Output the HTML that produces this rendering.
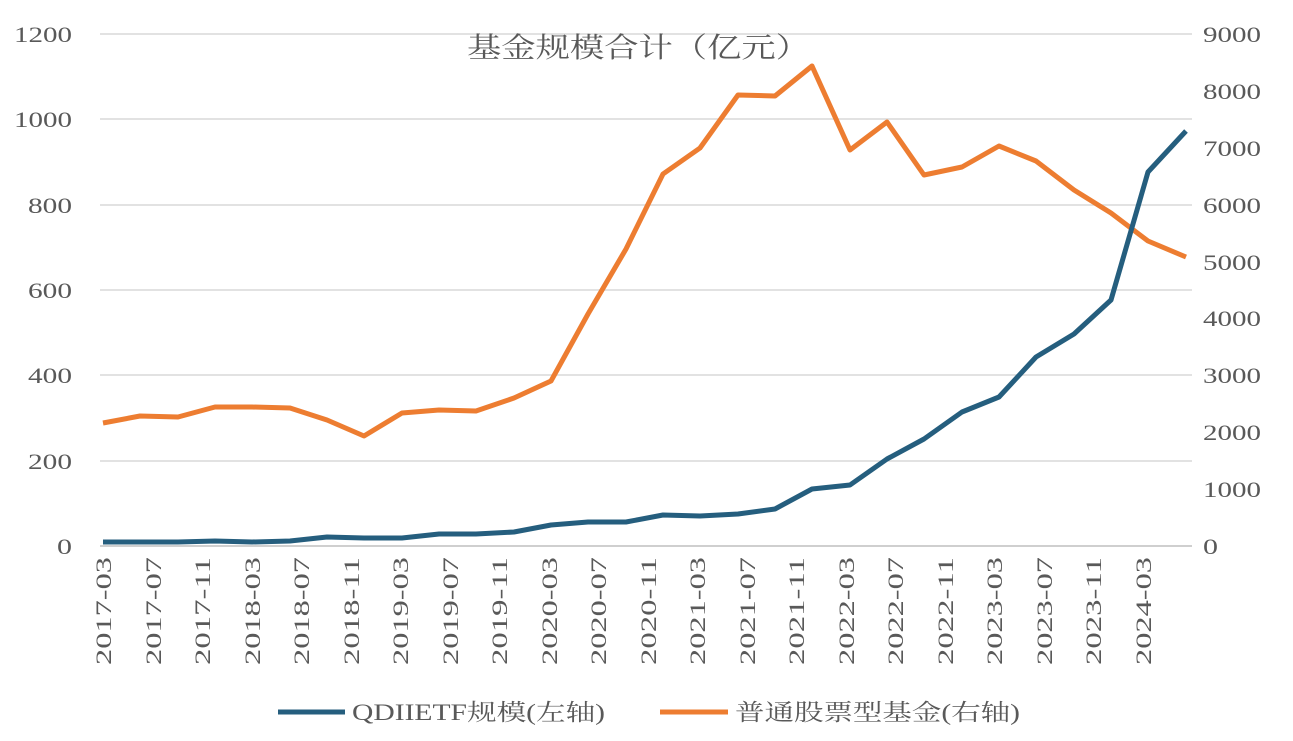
<!DOCTYPE html>
<html><head><meta charset="utf-8"><style>
body{margin:0;background:#fff;}
svg{display:block;font-family:"Liberation Serif","Noto Serif CJK SC",serif;}
</style></head><body>
<svg width="1293" height="741" viewBox="0 0 1293 741">
<g stroke="#d9d9d9" stroke-width="1.5">
<line x1="100" x2="1192" y1="34" y2="34"/><line x1="100" x2="1192" y1="119" y2="119"/>
<line x1="100" x2="1192" y1="205" y2="205"/><line x1="100" x2="1192" y1="290" y2="290"/>
<line x1="100" x2="1192" y1="375" y2="375"/><line x1="100" x2="1192" y1="461" y2="461"/>
</g>
<line x1="100" x2="1192" y1="546" y2="546" stroke="#bfbfbf" stroke-width="1.5"/>
<g fill="#595959" font-size="22" text-anchor="end" lengthAdjust="spacingAndGlyphs">
<text x="72" y="42" textLength="58" lengthAdjust="spacingAndGlyphs">1200</text>
<text x="72" y="127" textLength="58" lengthAdjust="spacingAndGlyphs">1000</text>
<text x="72" y="213" textLength="44" lengthAdjust="spacingAndGlyphs">800</text>
<text x="72" y="298" textLength="44" lengthAdjust="spacingAndGlyphs">600</text>
<text x="72" y="383" textLength="44" lengthAdjust="spacingAndGlyphs">400</text>
<text x="72" y="469" textLength="44" lengthAdjust="spacingAndGlyphs">200</text>
<text x="72" y="554" textLength="15" lengthAdjust="spacingAndGlyphs">0</text>
</g>
<g fill="#595959" font-size="22" text-anchor="start">
<text x="1203" y="42" textLength="58" lengthAdjust="spacingAndGlyphs">9000</text>
<text x="1203" y="99" textLength="58" lengthAdjust="spacingAndGlyphs">8000</text>
<text x="1203" y="156" textLength="58" lengthAdjust="spacingAndGlyphs">7000</text>
<text x="1203" y="213" textLength="58" lengthAdjust="spacingAndGlyphs">6000</text>
<text x="1203" y="270" textLength="58" lengthAdjust="spacingAndGlyphs">5000</text>
<text x="1203" y="326" textLength="58" lengthAdjust="spacingAndGlyphs">4000</text>
<text x="1203" y="383" textLength="58" lengthAdjust="spacingAndGlyphs">3000</text>
<text x="1203" y="440" textLength="58" lengthAdjust="spacingAndGlyphs">2000</text>
<text x="1203" y="497" textLength="58" lengthAdjust="spacingAndGlyphs">1000</text>
<text x="1203" y="554" textLength="15" lengthAdjust="spacingAndGlyphs">0</text>
</g>
<text x="467" y="57" font-size="28" fill="#595959" textLength="343" lengthAdjust="spacingAndGlyphs">基金规模合计（亿元）</text>
<polyline fill="none" stroke="#ed7d31" stroke-width="5" stroke-linejoin="round" points="103,423 140,416 178,417 215,407 252,407 290,408 327,420 364,436 402,413 439,410 476,411 514,398 551,381 588,314 626,249 663,174 700,148 738,95 775,96 812,66 850,150 887,122 924,175 962,167 999,146 1036,161 1074,190 1111,213 1148,241 1186,257"/>
<polyline fill="none" stroke="#255e7e" stroke-width="5" stroke-linejoin="round" points="103,542 140,542 178,542 215,541 252,542 290,541 327,537 364,538 402,538 439,534 476,534 514,532 551,525 588,522 626,522 663,515 700,516 738,514 775,509 812,489 850,485 887,459 924,439 962,412 999,397 1036,357 1074,334 1111,300 1148,172 1186,131"/>
<line x1="278" x2="345" y1="712" y2="712" stroke="#255e7e" stroke-width="5"/>
<text x="352" y="720" font-size="23" fill="#595959" textLength="253" lengthAdjust="spacingAndGlyphs">QDIIETF规模(左轴)</text>
<line x1="660" x2="728" y1="712" y2="712" stroke="#ed7d31" stroke-width="5"/>
<text x="735" y="720" font-size="23" fill="#595959" textLength="285" lengthAdjust="spacingAndGlyphs">普通股票型基金(右轴)</text>
<g fill="#595959" font-size="22" text-anchor="end">
<text transform="translate(111,557) rotate(-90)" textLength="108" lengthAdjust="spacingAndGlyphs">2017-03</text>
<text transform="translate(161,557) rotate(-90)" textLength="108" lengthAdjust="spacingAndGlyphs">2017-07</text>
<text transform="translate(210,557) rotate(-90)" textLength="108" lengthAdjust="spacingAndGlyphs">2017-11</text>
<text transform="translate(260,557) rotate(-90)" textLength="108" lengthAdjust="spacingAndGlyphs">2018-03</text>
<text transform="translate(309,557) rotate(-90)" textLength="108" lengthAdjust="spacingAndGlyphs">2018-07</text>
<text transform="translate(359,557) rotate(-90)" textLength="108" lengthAdjust="spacingAndGlyphs">2018-11</text>
<text transform="translate(408,557) rotate(-90)" textLength="108" lengthAdjust="spacingAndGlyphs">2019-03</text>
<text transform="translate(458,557) rotate(-90)" textLength="108" lengthAdjust="spacingAndGlyphs">2019-07</text>
<text transform="translate(507,557) rotate(-90)" textLength="108" lengthAdjust="spacingAndGlyphs">2019-11</text>
<text transform="translate(557,557) rotate(-90)" textLength="108" lengthAdjust="spacingAndGlyphs">2020-03</text>
<text transform="translate(606,557) rotate(-90)" textLength="108" lengthAdjust="spacingAndGlyphs">2020-07</text>
<text transform="translate(656,557) rotate(-90)" textLength="108" lengthAdjust="spacingAndGlyphs">2020-11</text>
<text transform="translate(705,557) rotate(-90)" textLength="108" lengthAdjust="spacingAndGlyphs">2021-03</text>
<text transform="translate(755,557) rotate(-90)" textLength="108" lengthAdjust="spacingAndGlyphs">2021-07</text>
<text transform="translate(804,557) rotate(-90)" textLength="108" lengthAdjust="spacingAndGlyphs">2021-11</text>
<text transform="translate(854,557) rotate(-90)" textLength="108" lengthAdjust="spacingAndGlyphs">2022-03</text>
<text transform="translate(903,557) rotate(-90)" textLength="108" lengthAdjust="spacingAndGlyphs">2022-07</text>
<text transform="translate(953,557) rotate(-90)" textLength="108" lengthAdjust="spacingAndGlyphs">2022-11</text>
<text transform="translate(1002,557) rotate(-90)" textLength="108" lengthAdjust="spacingAndGlyphs">2023-03</text>
<text transform="translate(1052,557) rotate(-90)" textLength="108" lengthAdjust="spacingAndGlyphs">2023-07</text>
<text transform="translate(1101,557) rotate(-90)" textLength="108" lengthAdjust="spacingAndGlyphs">2023-11</text>
<text transform="translate(1151,557) rotate(-90)" textLength="108" lengthAdjust="spacingAndGlyphs">2024-03</text>
</g>
</svg>
</body></html>
